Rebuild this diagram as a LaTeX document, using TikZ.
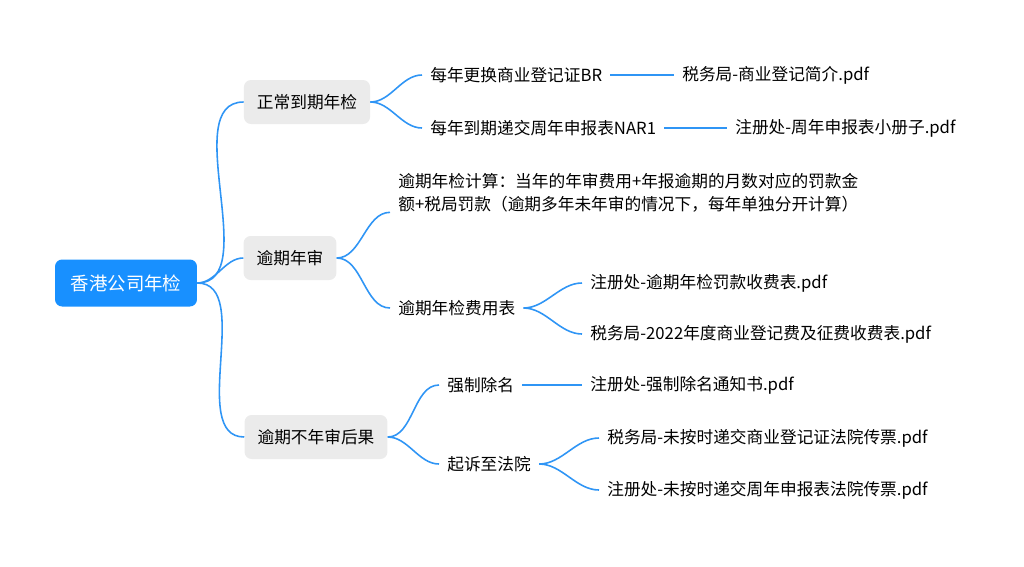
\documentclass[tikz,border=0pt]{standalone}
\usepackage{fontspec}
\setmainfont{Noto Sans CJK SC}
\usetikzlibrary{positioning}
\definecolor{rootBlue}{HTML}{1890FF}
\definecolor{topicGray}{HTML}{EBEBEB}
\definecolor{lineBlue}{HTML}{2F95F5}
\tikzset{
  root/.style = {
    fill=rootBlue, text=white, rounded corners=4pt,
    minimum width=2.84cm, minimum height=0.94cm,
    font=\fontsize{10.5pt}{12pt}\selectfont,
  },
  topic/.style = {
    fill=topicGray, rounded corners=4pt,
    minimum height=0.88cm, inner xsep=0.26cm,
    font=\fontsize{9.5pt}{11pt}\selectfont,
  },
  leaf/.style = {
    anchor=west, inner xsep=0.16cm, inner ysep=2pt, align=left,
    font=\fontsize{9.5pt}{13pt}\selectfont,
  },
  branch/.style = {
    draw=lineBlue, line width=0.9pt, out=0, in=180, looseness=0.9,
  },
  link/.style = {
    draw=lineBlue, line width=0.9pt,
  },
}
\begin{document}
\begin{tikzpicture}[x=0.02cm, y=-0.02cm]
\useasboundingbox (0,0) rectangle (1024,566);

\node[root] (HK) at (126,283) {香港公司年检};

\node[topic] (Normal) at (307,102) {正常到期年检};
\node[topic] (Overdue) at (290,258) {逾期年审};
\node[topic] (Consequence) at (316,437) {逾期不年审后果};

\draw[branch] (HK.east) to (Normal.west);
\draw[branch] (HK.east) to (Overdue.west);
\draw[branch] (HK.east) to (Consequence.west);

% 正常到期年检
\node[leaf] (BR) at (422,75) {每年更换商业登记证BR};
\node[leaf] (NAR) at (422,128) {每年到期递交周年申报表NAR1};
\node[leaf] (BRpdf) at (674,75) {税务局-商业登记简介.pdf};
\node[leaf] (NARpdf) at (727,128) {注册处-周年申报表小册子.pdf};
\draw[branch] (Normal.east) to (BR.west);
\draw[branch] (Normal.east) to (NAR.west);
\draw[link] (BR.east) -- (BRpdf.west);
\draw[link] (NAR.east) -- (NARpdf.west);

% 逾期年审
\node[leaf] (Calc) at (390,193) {逾期年检计算：当年的年审费用+年报逾期的月数对应的罚款金\\额+税局罚款（逾期多年未年审的情况下，每年单独分开计算）};
\node[leaf] (Fees) at (390,308) {逾期年检费用表};
\node[leaf] (Penalty) at (582,283) {注册处-逾期年检罚款收费表.pdf};
\node[leaf] (Levy) at (582,334) {税务局-2022年度商业登记费及征费收费表.pdf};
\draw[branch] (Overdue.east) to ([yshift=-11]Calc.west);
\draw[branch] (Overdue.east) to (Fees.west);
\draw[branch] (Fees.east) to (Penalty.west);
\draw[branch] (Fees.east) to (Levy.west);

% 逾期不年审后果
\node[leaf] (Strike) at (439,385) {强制除名};
\node[leaf] (Court) at (439,464) {起诉至法院};
\node[leaf] (StrikePdf) at (582,385) {注册处-强制除名通知书.pdf};
\node[leaf] (Summons1) at (599,438) {税务局-未按时递交商业登记证法院传票.pdf};
\node[leaf] (Summons2) at (599,490) {注册处-未按时递交周年申报表法院传票.pdf};
\draw[branch] (Consequence.east) to (Strike.west);
\draw[branch] (Consequence.east) to (Court.west);
\draw[link] (Strike.east) -- (StrikePdf.west);
\draw[branch] (Court.east) to (Summons1.west);
\draw[branch] (Court.east) to (Summons2.west);

\end{tikzpicture}
\end{document}
